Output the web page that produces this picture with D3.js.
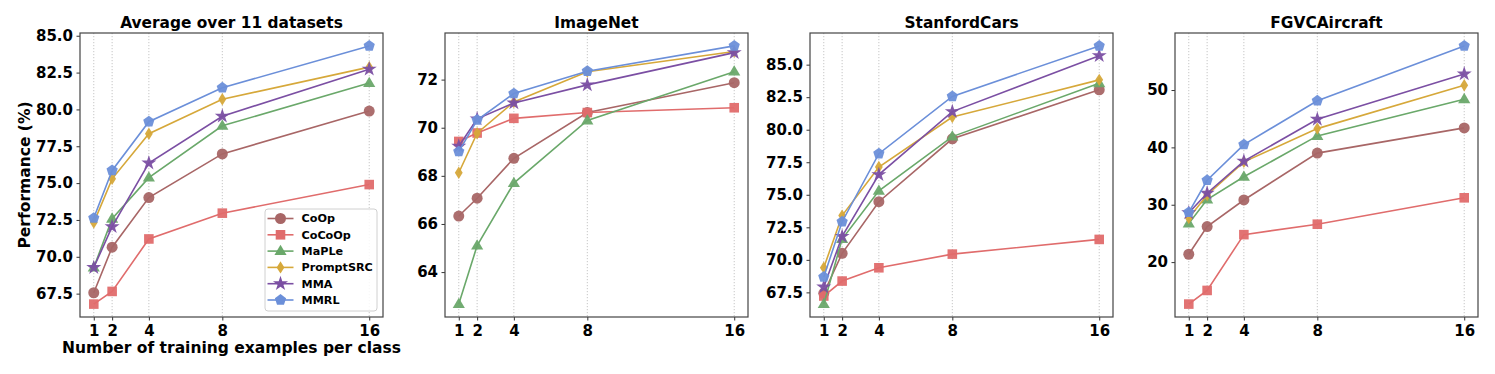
<!DOCTYPE html>
<html><head><meta charset="utf-8">
<script src="https://cdn.jsdelivr.net/npm/d3@7"></script>
<style>
body{margin:0;background:#fff;}
text{font-family:"DejaVu Sans",sans-serif;font-weight:bold;fill:#000;}
</style></head>
<body><svg id="chart" width="1495" height="374"></svg>
<script>
const shots = [1, 2, 4, 8, 16];
const methods = ["CoOp", "CoCoOp", "MaPLe", "PromptSRC", "MMA", "MMRL"];
const colors = ["#a86666", "#e06c6c", "#6aa86a", "#d6a83a", "#7b4fa3", "#6b8fd9"];
const titles = ["Average over 11 datasets", "ImageNet", "StanfordCars", "FGVCAircraft"];

// values per method: [1,2,4,8,16]
const avgData = [
  [67.56, 70.65, 74.02, 76.98, 79.89],
  [66.79, 67.65, 71.21, 72.96, 74.90],
  [69.27, 72.58, 75.37, 78.89, 81.79],
  [72.32, 75.29, 78.35, 80.69, 82.87],
  [69.27, 72.04, 76.36, 79.54, 82.73],
  [72.63, 75.86, 79.17, 81.47, 84.31]
];
const imagenetData = [
  [66.33, 67.07, 68.73, 70.63, 71.87],
  [69.43, 69.78, 70.39, 70.63, 70.83],
  [62.67, 65.10, 67.70, 70.30, 72.33],
  [68.13, 69.77, 71.07, 72.33, 73.17],
  [69.23, 70.37, 71.03, 71.78, 73.12],
  [69.01, 70.32, 71.42, 72.35, 73.40]
];
const carsData = [
  [67.43, 70.50, 74.47, 79.30, 83.07],
  [67.22, 68.37, 69.39, 70.44, 71.57],
  [66.60, 71.60, 75.30, 79.47, 83.57],
  [69.40, 73.40, 77.13, 80.97, 83.83],
  [67.91, 71.80, 76.55, 81.39, 85.69],
  [68.68, 72.93, 78.16, 82.56, 86.44]
];
const aircraftData = [
  [21.37, 26.20, 30.83, 39.00, 43.40],
  [12.68, 15.06, 24.79, 26.61, 31.21],
  [26.73, 30.90, 34.87, 42.00, 48.40],
  [27.67, 31.70, 37.47, 43.27, 50.83],
  [28.60, 32.00, 37.60, 44.90, 52.80],
  [28.68, 34.27, 40.49, 48.13, 57.69]
];
const yTicks = [
  [67.5, 70.0, 72.5, 75.0, 77.5, 80.0, 82.5, 85.0],
  [64, 66, 68, 70, 72],
  [67.5, 70.0, 72.5, 75.0, 77.5, 80.0, 82.5, 85.0],
  [20, 30, 40, 50]
];
const yFormats = [".1f", "d", ".1f", "d"];
const panels = [avgData, imagenetData, carsData, aircraftData];

const svg = d3.select("#chart");
const W = 303, H = 284, top0 = 33;
const lefts = [80, 445, 810, 1175];

function markerPath(i) {
  switch (i) {
    case 0: return d3.symbol(d3.symbolCircle, 95)();
    case 1: return d3.symbol(d3.symbolSquare, 92)();
    case 2: { const r = 6.4; return `M0,${-r}L${r*0.95},${r*0.62}L${-r*0.95},${r*0.62}Z`; }
    case 3: { const h = 6.2, w = 3.9; return `M0,${-h}L${w},0L0,${h}L${-w},0Z`; }
    case 4: return d3.symbol(d3.symbolStar, 70)();
    case 5: {
      const r = 5.9; let p = "";
      for (let k = 0; k < 5; k++) {
        const a = -Math.PI/2 + k*2*Math.PI/5;
        p += (k ? "L" : "M") + (r*Math.cos(a)).toFixed(2) + "," + (r*Math.sin(a)).toFixed(2);
      }
      return p + "Z";
    }
  }
}

panels.forEach((data, pi) => {
  const g = svg.append("g").attr("transform", `translate(${lefts[pi]},${top0})`);
  const all = data.flat();
  const mn = d3.min(all), mx = d3.max(all), m = (mx - mn) * 0.05;
  const x = d3.scaleLinear().domain([0.25, 16.75]).range([0, W]);
  const y = d3.scaleLinear().domain([mn - m, mx + m]).range([H, 0]);

  // grid
  g.selectAll(".grid").data(shots).enter().append("line")
    .attr("x1", d => x(d)).attr("x2", d => x(d)).attr("y1", 0).attr("y2", H)
    .attr("stroke", "#b8b8b8").attr("stroke-width", 0.8).attr("stroke-dasharray", "1.2,1.8");

  // lines + markers
  data.forEach((vals, mi) => {
    const pts = shots.map((s, k) => [s, vals[k]]);
    g.append("path").datum(pts)
      .attr("d", d3.line().x(d => x(d[0])).y(d => y(d[1])))
      .attr("fill", "none").attr("stroke", colors[mi]).attr("stroke-width", 1.6);
    g.selectAll(".m" + mi).data(pts).enter().append("path")
      .attr("d", markerPath(mi))
      .attr("transform", d => `translate(${x(d[0])},${y(d[1])})`)
      .attr("fill", colors[mi]).attr("fill-opacity", 0.95);
  });

  // axes
  const xa = g.append("g").attr("transform", `translate(0,${H})`)
    .call(d3.axisBottom(x).tickValues(shots).tickFormat(d3.format("d")).tickSize(3.5).tickPadding(3));
  const ya = g.append("g")
    .call(d3.axisLeft(y).tickValues(yTicks[pi]).tickFormat(d3.format(yFormats[pi])).tickSize(3.5).tickPadding(3.5));
  [xa, ya].forEach(a => {
    a.select(".domain").remove();
    a.selectAll("line").attr("stroke", "#333").attr("stroke-width", 1);
    a.selectAll("text").style("font-size", "15px").style("font-family", "DejaVu Sans").style("font-weight", "bold").attr("fill", "#000");
  });
  xa.selectAll("text").attr("dy", "0.8em");

  // frame
  g.append("rect").attr("x", 0).attr("y", 0).attr("width", W).attr("height", H)
    .attr("fill", "none").attr("stroke", "#444").attr("stroke-width", 1.2);

  // title
  g.append("text").attr("x", W/2).attr("y", -5).attr("text-anchor", "middle")
    .style("font-size", "15.4px").text(titles[pi]);

  if (pi === 0) {
    g.append("text").attr("transform", `translate(${-50},${H/2}) rotate(-90)`)
      .attr("text-anchor", "middle").style("font-size", "15.5px").text("Performance (%)");
    g.append("text").attr("x", W/2).attr("y", H + 36).attr("text-anchor", "middle")
      .style("font-size", "15.5px").text("Number of training examples per class");

    // legend
    const lg = g.append("g").attr("transform", `translate(${265 - lefts[0]},${209 - top0})`);
    lg.append("rect").attr("width", 112).attr("height", 102).attr("rx", 3)
      .attr("fill", "#fff").attr("fill-opacity", 0.85).attr("stroke", "#d0d0d0").attr("stroke-width", 1);
    methods.forEach((name, mi) => {
      const yy = 9.5 + mi * 16.3;
      lg.append("line").attr("x1", 2.5).attr("x2", 28.5).attr("y1", yy).attr("y2", yy)
        .attr("stroke", colors[mi]).attr("stroke-width", 1.6);
      lg.append("path").attr("d", markerPath(mi)).attr("transform", `translate(15.5,${yy})`)
        .attr("fill", colors[mi]);
      lg.append("text").attr("x", 36.5).attr("y", yy).attr("dy", "0.35em")
        .style("font-size", "11.2px").text(name);
    });
  }
});
</script></body></html>
